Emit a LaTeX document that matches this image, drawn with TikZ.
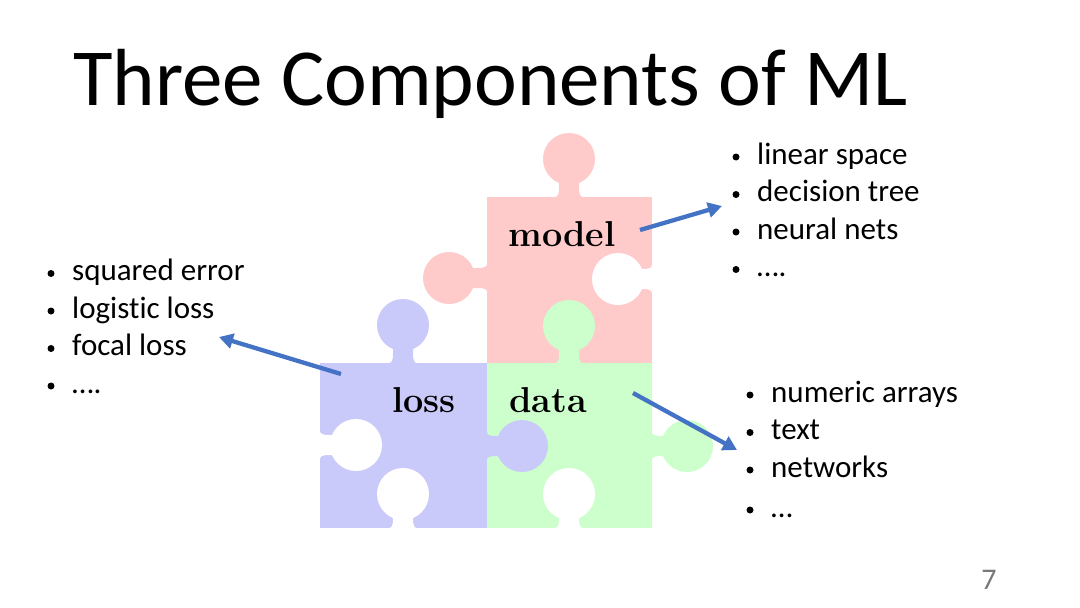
\documentclass[tikz,border=0pt]{standalone}
\usepackage{fontspec}
\newfontfamily\calfont[Ligatures=NoCommon]{Carlito}
\usetikzlibrary{arrows.meta}
\definecolor{pinkc}{RGB}{255,202,202}
\definecolor{bluec}{RGB}{202,202,250}
\definecolor{greenc}{RGB}{204,255,204}
\definecolor{arrowblue}{RGB}{68,114,196}
\definecolor{pagegray}{RGB}{120,120,120}
\tikzset{
  kup/.style={x={(1pt,0pt)},y={(0pt,1pt)}},
  kdown/.style={x={(1pt,0pt)},y={(0pt,-1pt)}},
  kleft/.style={x={(0pt,1pt)},y={(-1pt,0pt)}},
  kright/.style={x={(0pt,1pt)},y={(1pt,0pt)}},
  piecelabel/.style={font=\fontsize{36}{42}\selectfont\bfseries, anchor=base, inner sep=0pt},
  listitem/.style={font=\calfont\fontsize{31}{37}\selectfont, anchor=base west, inner sep=0pt},
  bulletmark/.style={circle, fill=black, inner sep=0pt, minimum size=7pt},
  arr/.style={draw=arrowblue, line width=4.3pt, -{Triangle[length=14pt,width=15pt]}},
}
% #1 x, #2 y, #3 direction style, #4 colour, #5 centre distance
\newcommand\knob[5]{%
  \begin{scope}[shift={(#1,#2)}, #3]
    \fill[#4] (-14,-3) -- (-14,0) .. controls (-11,0) and (-10,3) .. (-10,9) -- (-10,20) -- (10,20) -- (10,9) .. controls (10,3) and (11,0) .. (14,0) -- (14,-3) -- cycle;
    \fill[#4] (0,#5) circle [radius=26pt];
  \end{scope}}
\begin{document}
\begin{tikzpicture}[x=1pt,y=-1pt]
\fill[white] (0,0) rectangle (1080,608);
\useasboundingbox (0,0) rectangle (1080,608);

% title
\node[font=\calfont\fontsize{81}{97}\selectfont, anchor=base west, inner sep=0pt] (title) at (73,105) {Three Components of ML};

% pieces
\fill[pinkc] (487,197) rectangle (652,363);
\fill[bluec] (320,363) rectangle (487,528);
\fill[greenc] (487,363) rectangle (652,528);
% tabs
\knob{569}{197}{kup}{pinkc}{38}
\knob{487}{278}{kleft}{pinkc}{38}
\knob{569}{363}{kup}{greenc}{37}
\knob{403}{363}{kup}{bluec}{38}
\knob{487}{446}{kright}{bluec}{35}
\knob{652}{446}{kright}{greenc}{35}
% holes
\knob{652}{279}{kleft}{white}{34}
\knob{320}{445}{kright}{white}{36}
\knob{403}{528}{kup}{white}{34}
\knob{569}{528}{kup}{white}{34}

% piece labels
\node[piecelabel] (model) at (562,246) {model};
\node[piecelabel] (loss) at (424,412) {loss};
\node[piecelabel] (data) at (548,412) {data};

% model list
\node[bulletmark] (mb1) at (736,157) {};
\node[listitem] (mt1) at (757,164) {linear space};
\node[bulletmark] (mb2) at (736,194.5) {};
\node[listitem] (mt2) at (757,201.5) {decision tree};
\node[bulletmark] (mb3) at (736,232) {};
\node[listitem] (mt3) at (757,239) {neural nets};
\node[bulletmark] (mb4) at (736,269.5) {};
\node[listitem] (mt4) at (757,276.5) {….};

% loss list
\node[bulletmark] (lb1) at (51,273.5) {};
\node[listitem] (lt1) at (72,280.5) {squared error};
\node[bulletmark] (lb2) at (51,311) {};
\node[listitem] (lt2) at (72,318) {logistic loss};
\node[bulletmark] (lb3) at (51,348.5) {};
\node[listitem] (lt3) at (72,355.5) {focal loss};
\node[bulletmark] (lb4) at (51,386) {};
\node[listitem] (lt4) at (72,393) {….};

% data list
\node[bulletmark] (db1) at (750,395) {};
\node[listitem] (dt1) at (771,402) {numeric arrays};
\node[bulletmark] (db2) at (750,432.5) {};
\node[listitem] (dt2) at (771,439.5) {text};
\node[bulletmark] (db3) at (750,470) {};
\node[listitem] (dt3) at (771,477) {networks};
\node[bulletmark] (db4) at (750,510) {};
\node[listitem] (dt4) at (771,517) {…};

% arrows
\coordinate (m1) at (640,230);
\coordinate (m2) at (722,206);
\coordinate (l1) at (341,374);
\coordinate (l2) at (219,337);
\coordinate (d1) at (633,393);
\coordinate (d2) at (737,450);
\draw[arr] (m1) -- (m2);
\draw[arr] (l1) -- (l2);
\draw[arr] (d1) -- (d2);

% page number
\node[font=\calfont\fontsize{30}{36}\selectfont, text=pagegray, anchor=base, inner sep=0pt] (page) at (989,589) {7};
\end{tikzpicture}
\end{document}
